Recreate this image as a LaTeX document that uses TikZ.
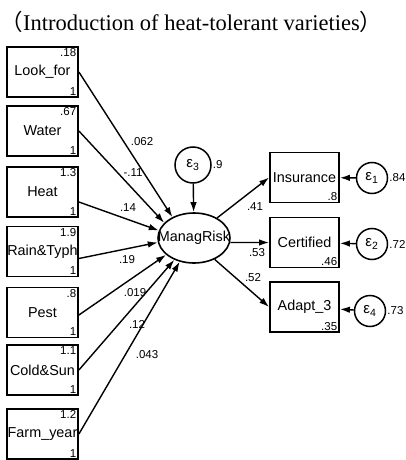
\documentclass[tikz,border=0pt]{standalone}
\usepackage{fontspec}
\setmainfont{Liberation Serif}
\setsansfont{Liberation Sans}
\newfontfamily\cjk{Noto Sans CJK SC}
\usetikzlibrary{arrows.meta,positioning,calc,shapes.geometric}

\begin{document}
\begin{tikzpicture}[
  x=1pt,y=-1pt,font=\sffamily,
  title/.style={font=\rmfamily\fontsize{22.5}{26}\selectfont},
  obs/.style={draw,line width=1.8pt,minimum width=71pt,minimum height=50pt,inner sep=0pt,
    font=\sffamily\fontsize{14.4}{16}\selectfont},
  latent/.style={draw,ellipse,line width=1.6pt,minimum width=72pt,minimum height=50pt,inner sep=0pt},
  err/.style={draw,circle,line width=1.5pt,inner sep=0pt,font=\sffamily\fontsize{15}{16}\selectfont},
  num/.style={font=\sffamily\fontsize{11.5}{13}\selectfont,inner sep=2.5pt},
  coef/.style={font=\sffamily\fontsize{11.5}{13}\selectfont,inner sep=1pt},
  path/.style={-{Latex[length=10pt,width=6.5pt]},line width=1.4pt}
]
\useasboundingbox (0,0) rectangle (406,460);
\node[title] (head) at (191.5,22) {{\cjk （}Introduction of heat-tolerant varieties{\cjk ）}};

% observed causes
\foreach \n/\t/\v/\y in {lookfor/Look\_for/.18/72,water/Water/.67/131,heat/Heat/1.3/192,
  rain/Rain\&Typh/1.9/251.5,pest/Pest/.8/312.5,cold/Cold\&Sun/1.1/370,farm/Farm\_year/1.2/434}{
  \node[obs] (\n) at (42.5,\y) {\t};
  \node[num,anchor=north east] (\n v) at (\n.north east) {\v};
  \node[num,anchor=south east] (\n o) at (\n.south east) {1};
}

% latent variable
\node[latent] (risk) at (194,238) {};
\node[font=\sffamily\fontsize{14.4}{16}\selectfont,inner sep=0pt] (risktxt) at (risk) {ManagRisk};
\node[err,minimum size=36pt] (e3) at (193,165) {ε\textsubscript{3}};
\node[num,anchor=west,inner sep=1pt] (e3v) at (e3.east) {.9};

% indicators
\foreach \n/\t/\v/\y in {insurance/Insurance/.8/177.5,certified/Certified/.46/242.5,adapt/Adapt\_3/.35/307}{
  \node[obs,minimum width=69pt] (\n) at (304.5,\y) {\t};
  \node[num,anchor=south east] (\n v) at (\n.south east) {\v};
}
\node[err,minimum size=31pt] (e1) at (372,178) {ε\textsubscript{1}};
\node[err,minimum size=31pt] (e2) at (372,244) {ε\textsubscript{2}};
\node[err,minimum size=31pt] (e4) at (370,311) {ε\textsubscript{4}};
\node[num,anchor=west,inner sep=1pt] (e1v) at (e1.east) {.84};
\node[num,anchor=west,inner sep=1pt] (e2v) at (e2.east) {.72};
\node[num,anchor=west,inner sep=1pt] (e4v) at (e4.east) {.73};

% paths into ManagRisk
\draw[path] (lookfor.east) -- (risk.136);
\draw[path] (water.east) -- (risk.153);
\draw[path] ($(heat.east)+(0,10)$) -- (risk.168);
\draw[path] ($(rain.east)+(0,7)$) -- (risk.187);
\draw[path] ($(pest.east)+(0,2.5)$) -- (risk.211);
\draw[path] (cold.east) -- (risk.228);
\draw[path] (farm.east) -- (risk.239);
\draw[path] (e3) -- (risk);

% paths out of ManagRisk
\draw[path] (risk.41) -- (insurance.west);
\draw[path] (risk.-7) -- (certified.west);
\draw[path] (risk.-46) -- (adapt.west);
\draw[path] (e1) -- (insurance);
\draw[path] (e2) -- (certified);
\draw[path] (e4) -- (adapt);

% coefficients
\node[coef] (c1) at (142,142) {.062};
\node[coef] (c2) at (133,173) {-.11};
\node[coef] (c3) at (128,208) {.14};
\node[coef] (c4) at (127,260) {.19};
\node[coef] (c5) at (135,293) {.019};
\node[coef] (c6) at (137,324) {.12};
\node[coef] (c7) at (147,355) {.043};
\node[coef] (c8) at (255,207) {.41};
\node[coef] (c9) at (257,253) {.53};
\node[coef] (c10) at (253,278) {.52};
\end{tikzpicture}
\end{document}
